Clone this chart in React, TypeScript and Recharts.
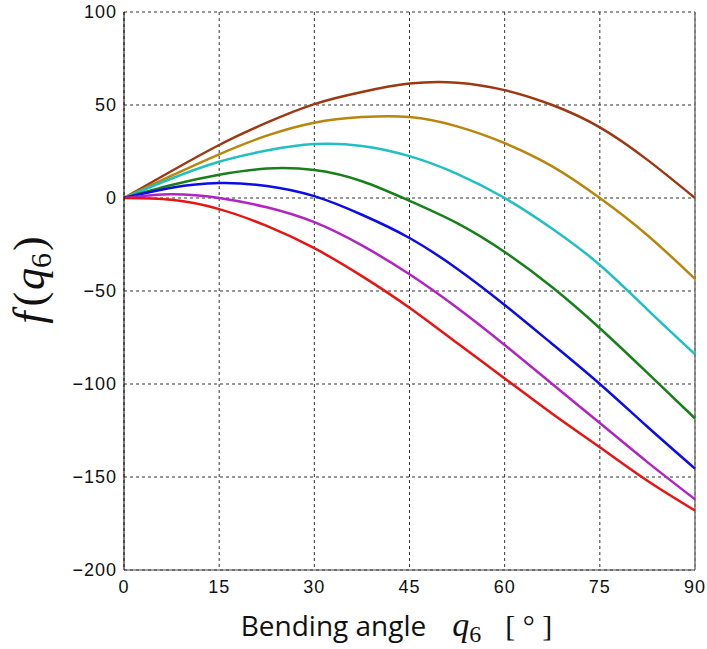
import { CartesianGrid, Line, LineChart, ReferenceLine, XAxis, YAxis } from "recharts"

const angles = [0, 7.5, 15, 22.5, 30, 37.5, 45, 52.5, 60, 67.5, 75, 82.5, 90]

const brown = [0, 14.5, 28.5, 40.5, 50.5, 57, 61.5, 62, 58, 50, 38, 20.5, 0]
const gold = [0, 12, 23.5, 33.5, 40.5, 43.5, 43.5, 38.5, 29.5, 17, 0, -20, -43.5]
const cyan = [0, 10.5, 19.5, 25.5, 29, 28, 22.5, 13, 0, -16.5, -36, -60, -84]
const green = [0, 7, 12.5, 15.8, 15, 9, -1.5, -13.5, -29, -48, -70, -94, -118.5]
const blue = [0, 5.5, 8, 6.5, 1, -9, -21.5, -38, -57.5, -78.5, -100, -123, -145.5]
const magenta = [0, 2, 0, -5, -13, -25.5, -41, -59, -79, -100, -121, -142, -162]
const red = [0, -1, -6, -15, -27, -42, -59, -78, -97, -116, -134, -152, -168]

const xTicks = [0, 15, 30, 45, 60, 75, 90]
const yTicks = [-200, -150, -100, -50, 0, 50, 100]

const series = [
  { key: "brown", values: brown, color: "#9c3812" },
  { key: "gold", values: gold, color: "#b8860b" },
  { key: "cyan", values: cyan, color: "#1fbfc4" },
  { key: "green", values: green, color: "#17801a" },
  { key: "blue", values: blue, color: "#0c0ce8" },
  { key: "magenta", values: magenta, color: "#b024c2" },
  { key: "red", values: red, color: "#e81414" },
]

const data = angles.map((a, i) => {
  const row: Record<string, number> = { angle: a }
  series.forEach((s) => (row[s.key] = s.values[i]))
  return row
})

const fmt = (v: number) => (v < 0 ? "\u2212" + Math.abs(v) : String(v))

function XLabel({ viewBox }: any) {
  const cx = viewBox.x + viewBox.width / 2 - 13
  const y = viewBox.y + 66
  return (
    <text x={cx} y={y} textAnchor="middle" fill="#111">
      <tspan fontFamily="Open Sans" fontSize={28}>Bending angle</tspan>
      <tspan dx={26} fontFamily="Liberation Serif" fontStyle="italic" fontSize={34}>q</tspan>
      <tspan dy={6} fontFamily="Liberation Serif" fontSize={24}>6</tspan>
      <tspan dx={24} dy={-6} fontFamily="Liberation Serif" fontSize={30}>[ ° ]</tspan>
    </text>
  )
}

function YLabel({ viewBox }: any) {
  const x = viewBox.x + 44
  const cy = viewBox.y + viewBox.height / 2 - 11
  return (
    <text x={x} y={cy} transform={`rotate(-90, ${x}, ${cy})`} textAnchor="middle" fill="#111">
      <tspan fontFamily="Liberation Serif" fontStyle="italic" fontSize={44}>f</tspan>
      <tspan dx={5} fontFamily="Liberation Serif" fontSize={44}>(</tspan>
      <tspan dx={2} fontFamily="Liberation Serif" fontStyle="italic" fontSize={44}>q</tspan>
      <tspan dy={7} fontFamily="Liberation Serif" fontSize={30}>6</tspan>
      <tspan dx={2} dy={-7} fontFamily="Liberation Serif" fontSize={44}>)</tspan>
    </text>
  )
}

export default function App() {
  return (
    <div style={{ position: "absolute", left: 0, top: 0, width: 707, height: 649, background: "#fff" }}>
      <LineChart width={707} height={649} data={data} margin={{ top: 12, right: 12, left: 0, bottom: 0 }}>
        <CartesianGrid strokeDasharray="3 3" stroke="#333" />
        <XAxis
          dataKey="angle"
          type="number"
          domain={[0, 90]}
          ticks={xTicks}
          height={79}
          tickSize={0}
          tickMargin={10}
          stroke="#444"
          tick={{ fill: "#111", fontSize: 18, fontFamily: "Liberation Sans", letterSpacing: 1 }}
          label={<XLabel />}
        />
        <YAxis
          type="number"
          domain={[-200, 100]}
          ticks={yTicks}
          width={124}
          tickSize={0}
          tickMargin={7}
          stroke="#000"
          tickFormatter={fmt}
          tick={{ fill: "#111", fontSize: 18, fontFamily: "Liberation Sans", letterSpacing: 1 }}
          label={<YLabel />}
        />
        <ReferenceLine x={90} stroke="#777" strokeWidth={1.5} />
        {series.map((s) => (
          <Line
            key={s.key}
            type="natural"
            dataKey={s.key}
            stroke={s.color}
            strokeWidth={2.5}
            dot={false}
            isAnimationActive={false}
          />
        ))}
      </LineChart>
    </div>
  )
}
